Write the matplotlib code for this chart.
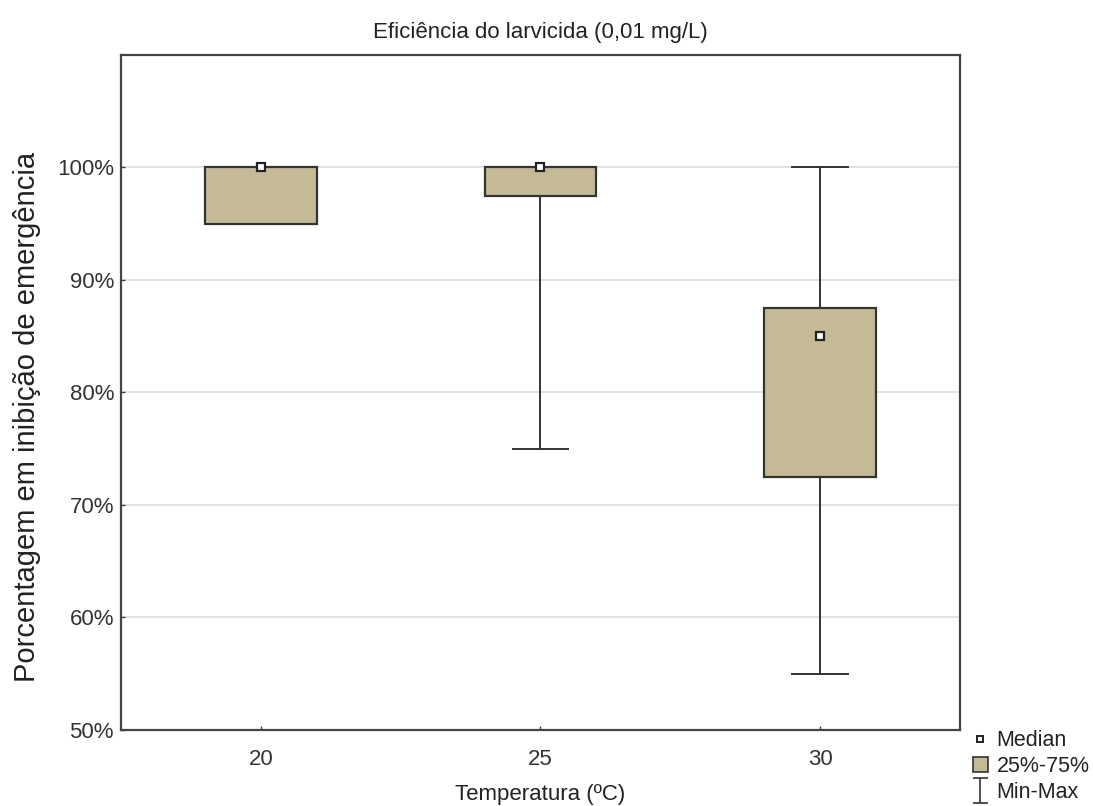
import numpy as np
import matplotlib
matplotlib.use("Agg")
import matplotlib.pyplot as plt
from matplotlib.path import Path
from matplotlib.lines import Line2D
from matplotlib.patches import Patch
from matplotlib.ticker import FuncFormatter

plt.rcParams['font.family'] = ['Liberation Sans', 'DejaVu Sans']

# data
temps = ["20", "25", "30"]
medians = [100, 100, 85]
q1 = [95, 97.5, 72.5]
q3 = [100, 100, 87.5]
mins = [95, 75, 55]
maxs = [100, 100, 100]

box_color = "#c4ba95"
edge = "#333333"

fig = plt.figure(figsize=(10.93, 8.06), dpi=100)
ax = fig.add_axes([0.1107, 0.0943, 0.7676, 0.8375])

stats = []
for i in range(len(temps)):
    stats.append(dict(med=medians[i], q1=q1[i], q3=q3[i],
                      whislo=mins[i], whishi=maxs[i], label=temps[i]))

pos = np.arange(len(temps))
ax.bxp(stats, positions=pos, widths=0.4, patch_artist=True, showfliers=False,
       boxprops=dict(facecolor=box_color, edgecolor=edge, linewidth=1.6),
       whiskerprops=dict(color=edge, linewidth=1.4),
       capprops=dict(color=edge, linewidth=1.4),
       capwidths=0.2,
       medianprops=dict(linewidth=0))
ax.plot(pos, medians, linestyle="none", marker="s", markersize=5.5,
        markerfacecolor="white", markeredgecolor="#222222", markeredgewidth=1.6,
        zorder=5, clip_on=False)

ax.set_xlim(-0.5, 2.5)
ax.set_ylim(50, 110)
ax.set_yticks([50, 60, 70, 80, 90, 100])
ax.yaxis.set_major_formatter(FuncFormatter(lambda v, p: "%d%%" % v))
ax.set_xticks(pos)
ax.set_xticklabels(temps)
ax.tick_params(direction="in", length=3, width=1, colors="#444444",
               labelsize=16, labelcolor="#333333", pad=5)
ax.tick_params(axis="x", pad=14)
ax.yaxis.grid(True, color="#dddddd", linewidth=1.2)
ax.set_axisbelow(True)
for s in ax.spines.values():
    s.set_color("#444444")
    s.set_linewidth(1.6)

ax.set_title("Eficiência do larvicida (0,01 mg/L)", fontsize=16, color="#222222", pad=12)
ax.set_xlabel("Temperatura (ºC)", fontsize=16, color="#222222", labelpad=10)
ax.set_ylabel("Porcentagem em inibição de emergência", fontsize=21, color="#222222")
ax.yaxis.set_label_coords(-0.095, 0.464)

# legend outside, bottom right
ibeam = Path([(-0.6, -1), (0.6, -1), (0, -1), (0, 1), (-0.6, 1), (0.6, 1)],
             [Path.MOVETO, Path.LINETO, Path.MOVETO, Path.LINETO, Path.MOVETO, Path.LINETO])
handles = [
    Line2D([], [], linestyle="none", marker="s", markersize=5,
           markerfacecolor="white", markeredgecolor="#222222", markeredgewidth=1.4),
    Patch(facecolor=box_color, edgecolor=edge, linewidth=1.2),
    Line2D([], [], linestyle="none", marker=ibeam, markersize=18,
           markeredgecolor="#333333", markeredgewidth=1.2),
]
fig.legend(handles, ["Median", "25%-75%", "Min-Max"], loc="upper left",
           bbox_to_anchor=(0.89, 0.094), frameon=False, fontsize=15.5,
           handlelength=0.7, handletextpad=0.4, labelspacing=0.22,
           borderpad=0.0, borderaxespad=0.0, labelcolor="#222222")

fig.savefig("out.png", dpi=100)
